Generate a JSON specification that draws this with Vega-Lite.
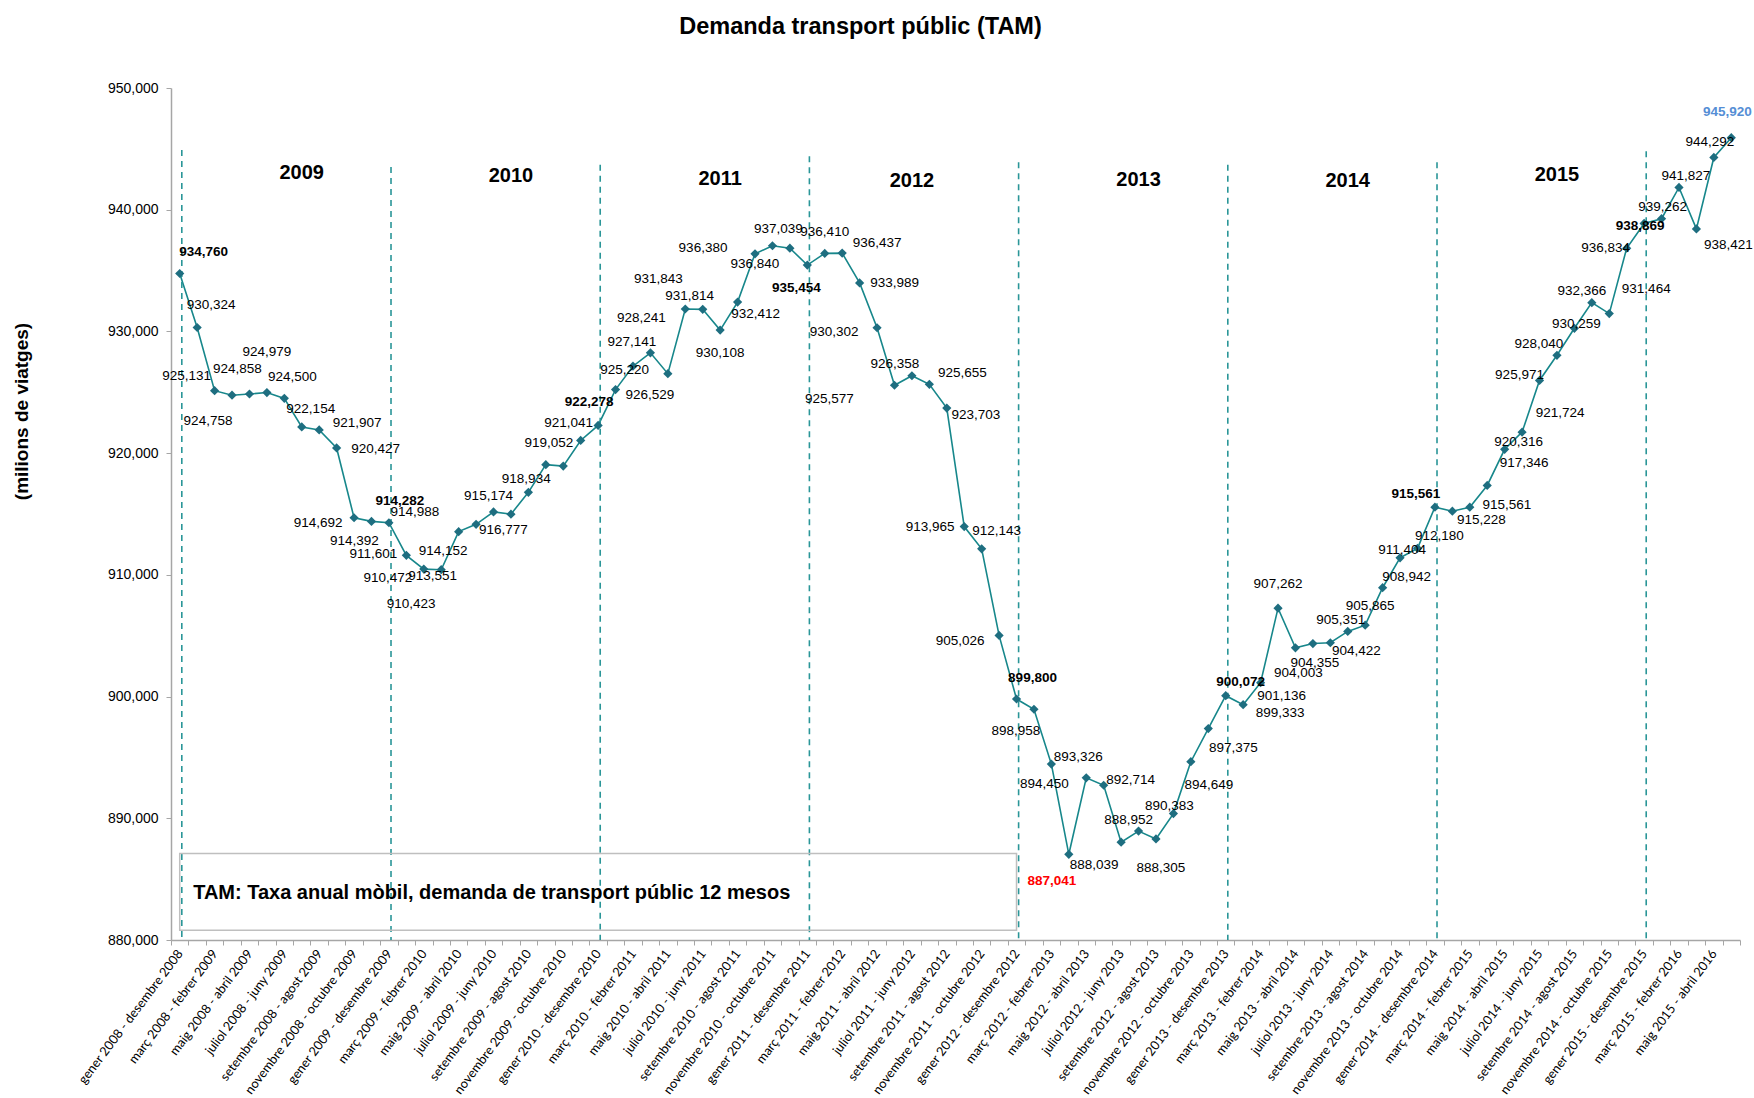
{
  "$schema": "https://vega.github.io/schema/vega-lite/v6.json",
  "width": 1569,
  "height": 852,
  "autosize": "none",
  "padding": {"left": 171, "top": 88, "right": 14, "bottom": 158},
  "background": "white",
  "title": {"text": "Demanda transport públic (TAM)", "font": "Liberation Sans, Arial, sans-serif", "fontSize": 23.5, "fontWeight": "bold", "color": "#000000", "anchor": "middle", "dx": -95, "offset": 43},
  "config": {"view": {"stroke": null}},
  "datasets": {
    "tam": [
      {"i": 0, "periode": "gener 2008 - desembre 2008", "viatges": 934760},
      {"i": 1, "periode": "febrer 2008 - gener 2009", "viatges": 930324},
      {"i": 2, "periode": "març 2008 - febrer 2009", "viatges": 925131},
      {"i": 3, "periode": "abril 2008 - març 2009", "viatges": 924758},
      {"i": 4, "periode": "maig 2008 - abril 2009", "viatges": 924858},
      {"i": 5, "periode": "juny 2008 - maig 2009", "viatges": 924979},
      {"i": 6, "periode": "juliol 2008 - juny 2009", "viatges": 924500},
      {"i": 7, "periode": "agost 2008 - juliol 2009", "viatges": 922154},
      {"i": 8, "periode": "setembre 2008 - agost 2009", "viatges": 921907},
      {"i": 9, "periode": "octubre 2008 - setembre 2009", "viatges": 920427},
      {"i": 10, "periode": "novembre 2008 - octubre 2009", "viatges": 914692},
      {"i": 11, "periode": "desembre 2008 - novembre 2009", "viatges": 914392},
      {"i": 12, "periode": "gener 2009 - desembre 2009", "viatges": 914282},
      {"i": 13, "periode": "febrer 2009 - gener 2010", "viatges": 911601},
      {"i": 14, "periode": "març 2009 - febrer 2010", "viatges": 910472},
      {"i": 15, "periode": "abril 2009 - març 2010", "viatges": 910423},
      {"i": 16, "periode": "maig 2009 - abril 2010", "viatges": 913551},
      {"i": 17, "periode": "juny 2009 - maig 2010", "viatges": 914152},
      {"i": 18, "periode": "juliol 2009 - juny 2010", "viatges": 915174},
      {"i": 19, "periode": "agost 2009 - juliol 2010", "viatges": 914988},
      {"i": 20, "periode": "setembre 2009 - agost 2010", "viatges": 916777},
      {"i": 21, "periode": "octubre 2009 - setembre 2010", "viatges": 919052},
      {"i": 22, "periode": "novembre 2009 - octubre 2010", "viatges": 918934},
      {"i": 23, "periode": "desembre 2009 - novembre 2010", "viatges": 921041},
      {"i": 24, "periode": "gener 2010 - desembre 2010", "viatges": 922278},
      {"i": 25, "periode": "febrer 2010 - gener 2011", "viatges": 925220},
      {"i": 26, "periode": "març 2010 - febrer 2011", "viatges": 927141},
      {"i": 27, "periode": "abril 2010 - març 2011", "viatges": 928241},
      {"i": 28, "periode": "maig 2010 - abril 2011", "viatges": 926529},
      {"i": 29, "periode": "juny 2010 - maig 2011", "viatges": 931843},
      {"i": 30, "periode": "juliol 2010 - juny 2011", "viatges": 931814},
      {"i": 31, "periode": "agost 2010 - juliol 2011", "viatges": 930108},
      {"i": 32, "periode": "setembre 2010 - agost 2011", "viatges": 932412},
      {"i": 33, "periode": "octubre 2010 - setembre 2011", "viatges": 936380},
      {"i": 34, "periode": "novembre 2010 - octubre 2011", "viatges": 937039},
      {"i": 35, "periode": "desembre 2010 - novembre 2011", "viatges": 936840},
      {"i": 36, "periode": "gener 2011 - desembre 2011", "viatges": 935454},
      {"i": 37, "periode": "febrer 2011 - gener 2012", "viatges": 936410},
      {"i": 38, "periode": "març 2011 - febrer 2012", "viatges": 936437},
      {"i": 39, "periode": "abril 2011 - març 2012", "viatges": 933989},
      {"i": 40, "periode": "maig 2011 - abril 2012", "viatges": 930302},
      {"i": 41, "periode": "juny 2011 - maig 2012", "viatges": 925577},
      {"i": 42, "periode": "juliol 2011 - juny 2012", "viatges": 926358},
      {"i": 43, "periode": "agost 2011 - juliol 2012", "viatges": 925655},
      {"i": 44, "periode": "setembre 2011 - agost 2012", "viatges": 923703},
      {"i": 45, "periode": "octubre 2011 - setembre 2012", "viatges": 913965},
      {"i": 46, "periode": "novembre 2011 - octubre 2012", "viatges": 912143},
      {"i": 47, "periode": "desembre 2011 - novembre 2012", "viatges": 905026},
      {"i": 48, "periode": "gener 2012 - desembre 2012", "viatges": 899800},
      {"i": 49, "periode": "febrer 2012 - gener 2013", "viatges": 898958},
      {"i": 50, "periode": "març 2012 - febrer 2013", "viatges": 894450},
      {"i": 51, "periode": "abril 2012 - març 2013", "viatges": 887041},
      {"i": 52, "periode": "maig 2012 - abril 2013", "viatges": 893326},
      {"i": 53, "periode": "juny 2012 - maig 2013", "viatges": 892714},
      {"i": 54, "periode": "juliol 2012 - juny 2013", "viatges": 888039},
      {"i": 55, "periode": "agost 2012 - juliol 2013", "viatges": 888952},
      {"i": 56, "periode": "setembre 2012 - agost 2013", "viatges": 888305},
      {"i": 57, "periode": "octubre 2012 - setembre 2013", "viatges": 890383},
      {"i": 58, "periode": "novembre 2012 - octubre 2013", "viatges": 894649},
      {"i": 59, "periode": "desembre 2012 - novembre 2013", "viatges": 897375},
      {"i": 60, "periode": "gener 2013 - desembre 2013", "viatges": 900072},
      {"i": 61, "periode": "febrer 2013 - gener 2014", "viatges": 899333},
      {"i": 62, "periode": "març 2013 - febrer 2014", "viatges": 901136},
      {"i": 63, "periode": "abril 2013 - març 2014", "viatges": 907262},
      {"i": 64, "periode": "maig 2013 - abril 2014", "viatges": 904003},
      {"i": 65, "periode": "juny 2013 - maig 2014", "viatges": 904355},
      {"i": 66, "periode": "juliol 2013 - juny 2014", "viatges": 904422},
      {"i": 67, "periode": "agost 2013 - juliol 2014", "viatges": 905351},
      {"i": 68, "periode": "setembre 2013 - agost 2014", "viatges": 905865},
      {"i": 69, "periode": "octubre 2013 - setembre 2014", "viatges": 908942},
      {"i": 70, "periode": "novembre 2013 - octubre 2014", "viatges": 911404},
      {"i": 71, "periode": "desembre 2013 - novembre 2014", "viatges": 912180},
      {"i": 72, "periode": "gener 2014 - desembre 2014", "viatges": 915561},
      {"i": 73, "periode": "febrer 2014 - gener 2015", "viatges": 915228},
      {"i": 74, "periode": "març 2014 - febrer 2015", "viatges": 915561},
      {"i": 75, "periode": "abril 2014 - març 2015", "viatges": 917346},
      {"i": 76, "periode": "maig 2014 - abril 2015", "viatges": 920316},
      {"i": 77, "periode": "juny 2014 - maig 2015", "viatges": 921724},
      {"i": 78, "periode": "juliol 2014 - juny 2015", "viatges": 925971},
      {"i": 79, "periode": "agost 2014 - juliol 2015", "viatges": 928040},
      {"i": 80, "periode": "setembre 2014 - agost 2015", "viatges": 930259},
      {"i": 81, "periode": "octubre 2014 - setembre 2015", "viatges": 932366},
      {"i": 82, "periode": "novembre 2014 - octubre 2015", "viatges": 931464},
      {"i": 83, "periode": "desembre 2014 - novembre 2015", "viatges": 936834},
      {"i": 84, "periode": "gener 2015 - desembre 2015", "viatges": 938869},
      {"i": 85, "periode": "febrer 2015 - gener 2016", "viatges": 939262},
      {"i": 86, "periode": "març 2015 - febrer 2016", "viatges": 941827},
      {"i": 87, "periode": "abril 2015 - març 2016", "viatges": 938421},
      {"i": 88, "periode": "maig 2015 - abril 2016", "viatges": 944292},
      {"i": 89, "periode": "juny 2015 - maig 2016", "viatges": 945920}
    ],
    "anys": [
      {"any": "2009", "periode": "agost 2008 - juliol 2009", "altura": 943000},
      {"any": "2010", "periode": "agost 2009 - juliol 2010", "altura": 942750},
      {"any": "2011", "periode": "agost 2010 - juliol 2011", "altura": 942560},
      {"any": "2012", "periode": "juliol 2011 - juny 2012", "altura": 942380},
      {"any": "2013", "periode": "agost 2012 - juliol 2013", "altura": 942470},
      {"any": "2014", "periode": "agost 2013 - juliol 2014", "altura": 942380},
      {"any": "2015", "periode": "agost 2014 - juliol 2015", "altura": 942840}
    ],
    "separadors": [
      {"periode": "gener 2008 - desembre 2008", "dalt": 944900},
      {"periode": "gener 2009 - desembre 2009", "dalt": 943500},
      {"periode": "gener 2010 - desembre 2010", "dalt": 943700},
      {"periode": "gener 2011 - desembre 2011", "dalt": 944400},
      {"periode": "gener 2012 - desembre 2012", "dalt": 943900},
      {"periode": "gener 2013 - desembre 2013", "dalt": 943700},
      {"periode": "gener 2014 - desembre 2014", "dalt": 943900},
      {"periode": "gener 2015 - desembre 2015", "dalt": 944800}
    ],
    "nota": [
      {"inici": "gener 2008 - desembre 2008", "final": "gener 2012 - desembre 2012", "dalt": 887100, "baix": 880800, "posicio": "febrer 2008 - gener 2009", "altura": 883900, "text": "TAM: Taxa anual mòbil, demanda de transport públic 12 mesos"}
    ]
  },
  "layer": [
    {
      "data": {"name": "tam"},
      "mark": {"type": "line", "color": "#17878B", "strokeWidth": 1.6},
      "encoding": {
        "x": {
          "field": "periode", "type": "ordinal", "sort": null, "bandPosition": 0.5,
          "scale": {"type": "band", "paddingInner": 0, "paddingOuter": 0},
          "axis": {
            "title": null, "labelAngle": -53, "labelAlign": "right", "labelBaseline": "middle",
            "labelFont": "Lato", "labelFontSize": 12.8, "labelColor": "#000000", "labelOverlap": false,
            "labelPadding": 6, "tickBand": "extent", "tickSize": 5, "tickColor": "#A6A6A6",
            "domainColor": "#A6A6A6", "domainWidth": 1.5, "grid": false,
            "labelExpr": "test(/^(gener|març|maig|juliol|setembre|novembre) /, datum.label) ? datum.label : ''"
          }
        },
        "y": {
          "field": "viatges", "type": "quantitative",
          "scale": {"domain": [880000, 950000], "zero": false, "nice": false},
          "axis": {
            "title": "(milions de viatges)", "values": [880000, 890000, 900000, 910000, 920000, 930000, 940000, 950000],
            "format": ",d", "labelFont": "Liberation Sans, Arial, sans-serif",
            "labelFontSize": 14, "labelColor": "#000000", "tickSize": 5, "tickColor": "#A6A6A6",
            "domainColor": "#A6A6A6", "domainWidth": 1.5, "labelPadding": 8, "grid": false,
            "titleFont": "Liberation Sans, Arial, sans-serif", "titleFontSize": 19, "titleFontWeight": "bold",
            "titleColor": "#000000", "titleY": 323, "titlePadding": 76
          }
        }
      }
    },
    {
      "data": {"name": "separadors"},
      "mark": {"type": "rule", "color": "#2A9698", "strokeDash": [6, 5], "strokeWidth": 1.6},
      "encoding": {
        "x": {"field": "periode", "type": "ordinal", "sort": null, "bandPosition": 0.62},
        "y": {"field": "dalt", "type": "quantitative"},
        "y2": {"datum": 880000}
      }
    },
    {
      "data": {"name": "nota"},
      "mark": {"type": "rect", "fill": "#FFFFFF", "fillOpacity": 0, "stroke": "#BFBFBF", "strokeWidth": 1.5},
      "encoding": {
        "x": {"field": "inici", "type": "ordinal", "sort": null, "bandPosition": 0.5},
        "x2": {"field": "final", "bandPosition": 0.5},
        "y": {"field": "dalt", "type": "quantitative"},
        "y2": {"field": "baix"}
      }
    },
    {
      "data": {"name": "nota"},
      "mark": {"type": "text", "align": "left", "baseline": "middle", "dx": -4, "font": "Liberation Sans, Arial, sans-serif", "fontSize": 20, "fontWeight": "bold", "color": "#000000"},
      "encoding": {
        "x": {"field": "posicio", "type": "ordinal", "sort": null, "bandPosition": 0.5},
        "y": {"field": "altura", "type": "quantitative"},
        "text": {"field": "text"}
      }
    },
    {
      "data": {"name": "tam"},
      "mark": {"type": "point", "shape": "diamond", "filled": true, "size": 85, "color": "#1E6E80", "opacity": 1},
      "encoding": {
        "x": {"field": "periode", "type": "ordinal", "sort": null, "bandPosition": 0.5},
        "y": {"field": "viatges", "type": "quantitative"}
      }
    },
    {
      "data": {"name": "tam"},
      "transform": [{"filter": "datum.i % 12 != 0 && datum.i != 51 && datum.i != 89"}],
      "mark": {
        "type": "text", "align": "center", "baseline": "middle",
        "font": "Liberation Sans, Arial, sans-serif", "fontSize": 13.5, "color": "#000000",
        "dx": {"expr": "[24,14,-28,-24,-12,0,8,9,38,39,-36,-17,11,-33,-36,-30,-26,-33,-5,-96,-25,3,-37,-12,-9,9,-1,-9,-18,-27,-13,0,18,-52,6,-35,-11,0,35,35,-43,-65,-17,33,29,-34,15,-39,16,-18,-7,-17,-8,27,-27,-10,5,-4,18,25,15,37,21,0,3,2,26,-7,5,24,2,22,-19,29,37,37,14,38,-20,-18,2,-10,37,-21,-4,1,7,32,-4,-4][datum.i]"},
        "dy": {"expr": "[-21,-22,-15,26,-25,-41,-21,-18,-7,1,5,20,-22,-1,9,34,44,27,-16,-2,38,-22,13,-17,-23,-20,-24,-35,21,-30,-13,23,12,-6,-17,16,23,-21,-10,0,4,14,-12,-11,7,0,-18,6,-21,22,20,27,-21,-5,23,-11,29,-8,23,19,-14,8,13,-24,25,19,8,-11,-19,-11,-8,-12,-13,9,-2,-22,-7,-19,-5,-11,-4,-12,-25,0,3,-12,-11,16,-15,-26][datum.i]"}
      },
      "encoding": {
        "x": {"field": "periode", "type": "ordinal", "sort": null, "bandPosition": 0.5},
        "y": {"field": "viatges", "type": "quantitative"},
        "text": {"field": "viatges", "type": "quantitative", "format": ",d"}
      }
    },
    {
      "data": {"name": "tam"},
      "transform": [{"filter": "datum.i % 12 == 0 || datum.i == 51 || datum.i == 89"}],
      "mark": {
        "type": "text", "align": "center", "baseline": "middle",
        "font": "Liberation Sans, Arial, sans-serif", "fontSize": 13.5, "fontWeight": "bold",
        "dx": {"expr": "[24,14,-28,-24,-12,0,8,9,38,39,-36,-17,11,-33,-36,-30,-26,-33,-5,-96,-25,3,-37,-12,-9,9,-1,-9,-18,-27,-13,0,18,-52,6,-35,-11,0,35,35,-43,-65,-17,33,29,-34,15,-39,16,-18,-7,-17,-8,27,-27,-10,5,-4,18,25,15,37,21,0,3,2,26,-7,5,24,2,22,-19,29,37,37,14,38,-20,-18,2,-10,37,-21,-4,1,7,32,-4,-4][datum.i]"},
        "dy": {"expr": "[-21,-22,-15,26,-25,-41,-21,-18,-7,1,5,20,-22,-1,9,34,44,27,-16,-2,38,-22,13,-17,-23,-20,-24,-35,21,-30,-13,23,12,-6,-17,16,23,-21,-10,0,4,14,-12,-11,7,0,-18,6,-21,22,20,27,-21,-5,23,-11,29,-8,23,19,-14,8,13,-24,25,19,8,-11,-19,-11,-8,-12,-13,9,-2,-22,-7,-19,-5,-11,-4,-12,-25,0,3,-12,-11,16,-15,-26][datum.i]"}
      },
      "encoding": {
        "x": {"field": "periode", "type": "ordinal", "sort": null, "bandPosition": 0.5},
        "y": {"field": "viatges", "type": "quantitative"},
        "text": {"field": "viatges", "type": "quantitative", "format": ",d"},
        "color": {"condition": [{"test": "datum.i == 51", "value": "#FF0000"}, {"test": "datum.i == 89", "value": "#558ED5"}], "value": "#000000"}
      }
    },
    {
      "data": {"name": "anys"},
      "mark": {"type": "text", "align": "center", "baseline": "middle", "font": "Liberation Sans, Arial, sans-serif", "fontSize": 20, "fontWeight": "bold", "color": "#000000"},
      "encoding": {
        "x": {"field": "periode", "type": "ordinal", "sort": null, "bandPosition": 0.5},
        "y": {"field": "altura", "type": "quantitative"},
        "text": {"field": "any"}
      }
    }
  ]
}
